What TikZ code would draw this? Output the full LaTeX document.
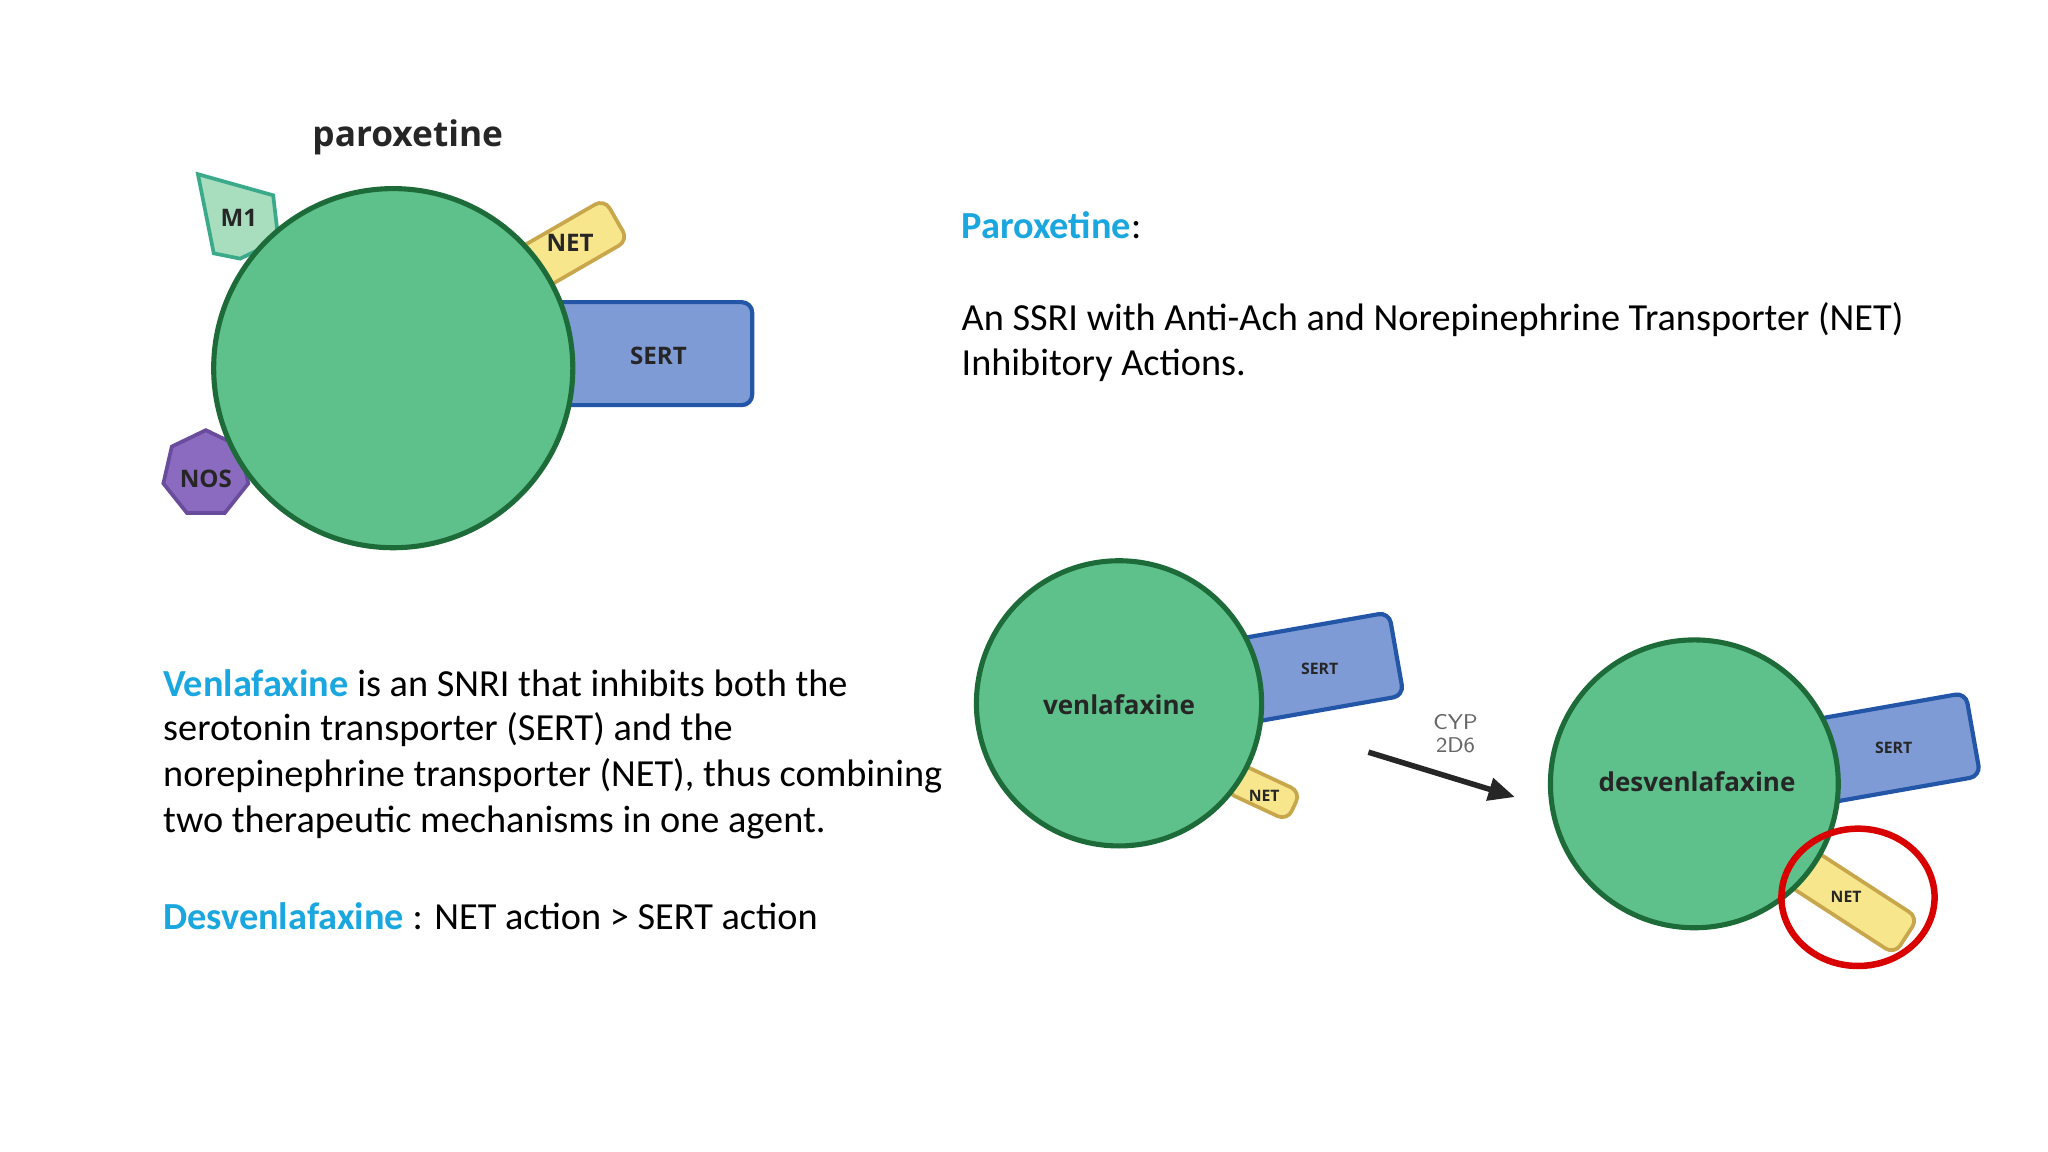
\documentclass[tikz,border=0pt]{standalone}
\usepackage{fontspec}
\setmainfont{Carlito}
\newfontfamily\lab{Open Sans}
\usetikzlibrary{shapes.geometric,arrows.meta}
\definecolor{drug}{HTML}{5EC08A}
\definecolor{drugb}{HTML}{1E6B3A}
\definecolor{yel}{HTML}{F8E68C}
\definecolor{yelb}{HTML}{C8A64C}
\definecolor{blu}{HTML}{7F9BD6}
\definecolor{blub}{HTML}{2456A8}
\definecolor{cyanT}{HTML}{1AA7E0}
\definecolor{mint}{HTML}{A8DDBE}
\definecolor{mintb}{HTML}{3BAA8A}
\definecolor{nos}{HTML}{8A6BBF}
\definecolor{nosb}{HTML}{6A4C9C}
\tikzset{
 drugc/.style={circle,fill=drug,draw=drugb,line width=1.1pt,inner sep=0pt},
 nettag/.style={rectangle,rounded corners=0.08cm,fill=yel,draw=yelb,line width=0.8pt,inner sep=0pt},
 serttag/.style={rectangle,rounded corners=0.08cm,fill=blu,draw=blub,line width=0.9pt,inner sep=0pt},
 bigl/.style={font=\lab\bfseries\fontsize{5.2pt}{6pt}\selectfont,text=black!85},
 smalll/.style={font=\lab\bfseries\fontsize{3.4pt}{4pt}\selectfont,text=black!85},
 body/.style={font=\fontsize{8.25pt}{10pt}\selectfont,anchor=west,inner sep=0pt,align=left},
}
\begin{document}
\begin{tikzpicture}[x=0.01cm,y=-0.01cm]
\useasboundingbox[fill=white] (0,0) rectangle (1552,873);
% paroxetine
\node[bigl,font=\lab\bfseries\fontsize{7.6pt}{8pt}\selectfont] (ptitle) at (309,104) {paroxetine};
\node[nettag,minimum width=0.9cm,minimum height=0.36cm,rotate=30] (pnet) at (428,189) {};
\node[serttag,minimum width=1.72cm,minimum height=0.78cm] (psert) at (484,268) {};
\draw[fill=mint,draw=mintb,line width=0.8pt] (150,132) -- (207,148) -- (211,182) -- (182,196) -- (162,192) -- cycle;
\node[regular polygon,regular polygon sides=7,minimum size=0.66cm,fill=nos,draw=nosb,line width=0.8pt,inner sep=0pt] (pnos) at (156,359) {};
\node[drugc,minimum size=2.72cm] (pc) at (298,279) {};
\node[bigl] (m1) at (181,165) {M1};
\node[bigl] at (432,184) {NET};
\node[bigl] at (499,270) {SERT};
\node[bigl] at (156,363) {NOS};
% paroxetine text
\node[body] (pt1) at (728,171) {\textcolor{cyanT}{\bfseries Paroxetine}:};
\node[body] (pt2) at (728,242) {An SSRI with Anti-Ach and Norepinephrine Transporter (NET)};
\node[body] (pt3) at (728,277) {Inhibitory Actions.};
% left text
\node[body] at (123,518) {\textcolor{cyanT}{\bfseries Venlafaxine} is an SNRI that inhibits both the};
\node[body] at (123,553) {serotonin transporter (SERT) and the};
\node[body] at (123,588) {norepinephrine transporter (NET), thus combining};
\node[body] at (123,623) {two therapeutic mechanisms in one agent.};
\node[body] at (123,694) {\textcolor{cyanT}{\bfseries Desvenlafaxine} : NET action > SERT action};
% venlafaxine
\node[serttag,minimum width=1.2cm,minimum height=0.64cm,rotate=10] (vsert) at (999,506) {};
\node[nettag,minimum width=0.52cm,minimum height=0.24cm,rotate=-25] (vnet) at (957,600) {};
\node[drugc,minimum size=2.16cm] (vc) at (848,533) {};
\node[bigl,font=\lab\bfseries\fontsize{5.6pt}{6pt}\selectfont] at (848,534) {venlafaxine};
\node[smalll] at (1000,507) {SERT};
\node[smalll] at (958,603) {NET};
% arrow
\coordinate (a1) at (1037,570);
\coordinate (a2) at (1148,604);
\draw[line width=1.2pt,-{Triangle[length=0.2cm,width=0.17cm]},black!85] (a1) -- (a2);
\node[font=\sffamily\fontsize{4.6pt}{5pt}\selectfont,text=black!60,align=center] (cyp) at (1103,556) {CYP\\2D6};
% desvenlafaxine
\node[serttag,minimum width=1.2cm,minimum height=0.64cm,rotate=10] (dsert) at (1436,567) {};
\node[nettag,minimum width=1.04cm,minimum height=0.33cm,rotate=-33] (dnet) at (1401,681) {};
\node[drugc,minimum size=2.18cm] (dc) at (1284,594) {};
\node[bigl,font=\lab\bfseries\fontsize{5.6pt}{6pt}\selectfont] at (1286,592) {desvenlafaxine};
\node[smalll] at (1435,567) {SERT};
\node[smalll] at (1399,680) {NET};
\node[ellipse,draw=red!85!black,line width=1.4pt,minimum width=1.16cm,minimum height=1.04cm] (ring) at (1408,680) {};
\end{tikzpicture}
\end{document}
